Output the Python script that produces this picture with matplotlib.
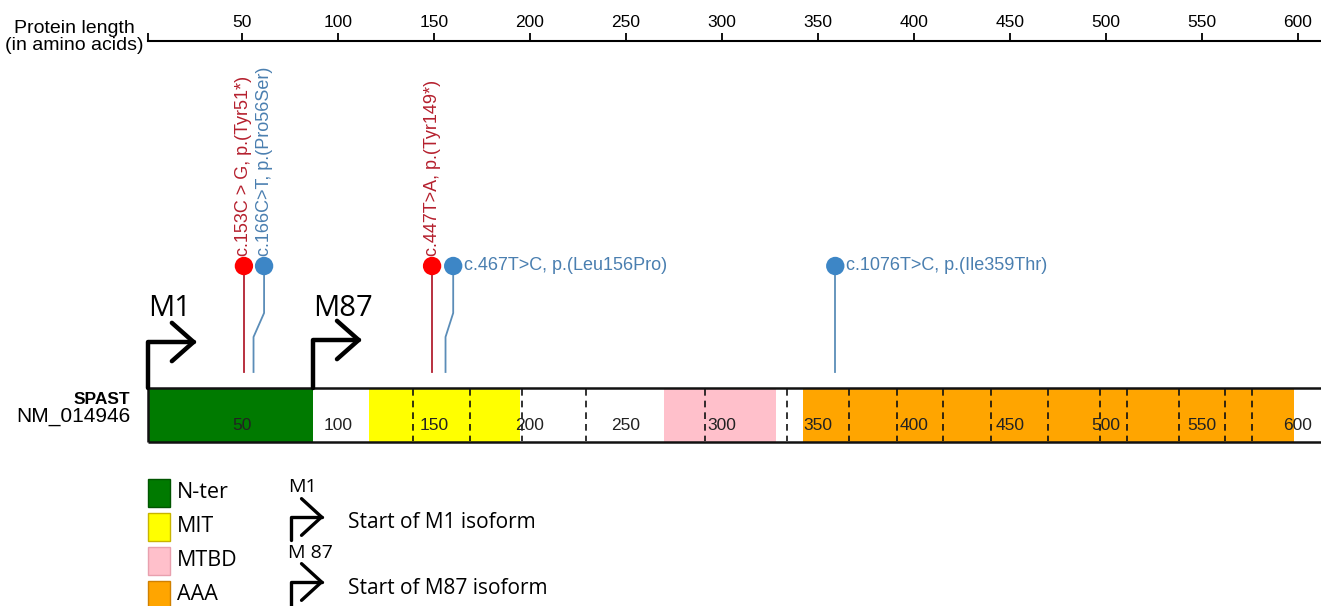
import numpy as np
import matplotlib.pyplot as plt
from matplotlib.patches import Rectangle

# SPAST protein (NM_014946) domain map
domain_names = ["N-ter", "MIT", "MTBD", "AAA"]
domain_starts = [1, 116, 270, 342]
domain_ends = [87, 195, 328, 598]
domain_colors = ["#007A00", "#FFFF00", "#FFC0CB", "#FFA500"]
domain_edges = ["#005500", "#C8B400", "#E8A0AE", "#D08000"]

exon_bounds = [139, 169, 196, 229, 291, 334, 366, 391, 415, 440, 470, 497, 511, 538, 562, 576]
scale_ticks = [50, 100, 150, 200, 250, 300, 350, 400, 450, 500, 550, 600]

mut_pos = [51, 56, 149, 156, 359]
mut_head = [51, 61.5, 149, 160, 359]
mut_labels = ["c.153C > G, p.(Tyr51*)", "c.166C>T, p.(Pro56Ser)",
              "c.447T>A, p.(Tyr149*)", "c.467T>C, p.(Leu156Pro)",
              "c.1076T>C, p.(Ile359Thr)"]
mut_truncating = [True, False, True, False, False]

isoform_starts = [1, 87]
isoform_names = ["M1", "M87"]

# pixel layout: x_px = X0 + PX_PER_AA * aa
W, H = 1321, 606
X0, PX_PER_AA = 146, 1.92
BAR_TOP, BAR_BOT = 388, 442
HEAD_Y = 266

RED, RED_LINE, RED_TXT = "#FF0000", "#B22030", "#B5202E"
BLUE, BLUE_LINE, BLUE_TXT = "#3D86C6", "#5B8DB8", "#4A7FB0"

MAIN_FONT = ["Liberation Sans", "DejaVu Sans"]
LEG_FONT = ["Open Sans", "DejaVu Sans"]


def _xlim():
    return (-X0 / PX_PER_AA, (W - X0) / PX_PER_AA)


def _scale_axis(fig):
    axs = fig.add_axes([0, 1 - 41 / H, 1, 1e-4])
    axs.set_xlim(*_xlim())
    axs.set_ylim(0, 1)
    axs.patch.set_visible(False)
    for side in ["left", "right", "bottom"]:
        axs.spines[side].set_visible(False)
    axs.spines["top"].set_linewidth(1.5)
    axs.spines["top"].set_bounds(1, _xlim()[1])
    axs.xaxis.tick_top()
    axs.set_xticks([1] + scale_ticks)
    axs.set_xticklabels([""] + [str(t) for t in scale_ticks], fontfamily=MAIN_FONT, fontsize=12.5)
    axs.tick_params(axis="x", direction="out", length=6, width=1.3, pad=2)
    axs.set_yticks([])


def _protein_bar(ax):
    ax.add_patch(Rectangle((1, BAR_TOP), 700, BAR_BOT - BAR_TOP, facecolor="white", edgecolor="none", zorder=1))
    ax.barh(
        [(BAR_TOP + BAR_BOT) / 2] * len(domain_starts),
        np.array(domain_ends) - np.array(domain_starts),
        left=domain_starts,
        height=BAR_BOT - BAR_TOP,
        color=domain_colors,
        edgecolor="none",
        zorder=2,
    )
    ax.vlines(exon_bounds, BAR_TOP + 1, BAR_BOT - 1, colors="#111111",
              linestyles=(0, (4, 3)), linewidth=1.2, zorder=3)
    ax.hlines([BAR_TOP, BAR_BOT], 1, 700, colors="#111111", linewidth=1.8, zorder=4)
    ax.vlines([1], BAR_TOP, BAR_BOT, colors="#111111", linewidth=1.8, zorder=4)
    for t in scale_ticks:
        ax.text(t, 426, str(t), ha="center", va="center", fontsize=12.5,
                color="#222222", family=MAIN_FONT, zorder=5)


def _mutations(ax):
    for pos, head, label, trunc in zip(mut_pos, mut_head, mut_labels, mut_truncating):
        line_c = trunc and RED_LINE or BLUE_LINE
        txt_c = trunc and RED_TXT or BLUE_TXT
        ax.plot([head, head, pos, pos], [HEAD_Y, 313, 337, 372], color=line_c, linewidth=1.3, zorder=2)
        if trunc or pos < 100:
            ax.text(head, HEAD_Y - 10, label, rotation=90, ha="center", va="bottom",
                    color=txt_c, fontsize=13, family=MAIN_FONT)
        else:
            ax.text(head + 5.5, HEAD_Y, label, ha="left", va="center",
                    color=txt_c, fontsize=13, family=MAIN_FONT)
    ax.scatter(mut_head, [HEAD_Y] * len(mut_head), s=175,
               c=[t and RED or BLUE for t in mut_truncating], edgecolors="none", zorder=3)


def _isoforms(ax):
    for pos, name in zip(isoform_starts, isoform_names):
        corner = 342 if pos == 1 else 340
        ax.annotate("", xy=(pos + 25.5, corner), xytext=(pos, BAR_TOP),
                    arrowprops=dict(arrowstyle="->,head_length=1.3,head_width=1.15",
                                    connectionstyle="angle,angleA=90,angleB=180,rad=0",
                                    lw=3.2, color="black", shrinkA=0, shrinkB=0,
                                    mutation_scale=12),
                    zorder=5)
        ax.text(pos, 316, name, ha="left", va="baseline", fontsize=21, family=LEG_FONT)


def _labels_and_legend(ov):
    ov.text(74, 37, "Protein length\n(in amino acids)", ha="center", va="center",
            fontsize=14, family=MAIN_FONT, linespacing=1.05)
    ov.text(130, 399, "SPAST", ha="right", va="center", fontsize=12.5,
            fontweight="bold", family=MAIN_FONT)
    ov.text(130, 417, "NM_014946", ha="right", va="center", fontsize=15, family=MAIN_FONT)

    for i, (name, color, edge) in enumerate(zip(domain_names, domain_colors, domain_edges)):
        y = 479 + i * 34
        ov.add_patch(Rectangle((148, y), 22, 28, facecolor=color, edgecolor=edge, linewidth=1.0))
        ov.text(177, y + 14, name, ha="left", va="center", fontsize=15.5, family=LEG_FONT)

    legend_rows = [(487, 540, 517, 523, "M1", "Start of M1 isoform"),
                   (553, 615, 582, 588, "M 87", "Start of M87 isoform")]
    for label_y, base_y, corner_y, text_y, short, long in legend_rows:
        ov.text(288, label_y, short, ha="left", va="center", fontsize=14, family=LEG_FONT)
        ov.annotate("", xy=(324, corner_y), xytext=(291, base_y),
                    arrowprops=dict(arrowstyle="->,head_length=1.2,head_width=1.1",
                                    connectionstyle="angle,angleA=90,angleB=180,rad=0",
                                    lw=2.4, color="black", shrinkA=0, shrinkB=0,
                                    mutation_scale=12),
                    annotation_clip=False)
        ov.text(348, text_y, long, ha="left", va="center", fontsize=15, family=LEG_FONT)


def _main():
    fig = plt.figure(figsize=(W / 100, H / 100), dpi=100)

    ax = fig.add_axes([0, 0, 1, 1])
    ax.set_xlim(*_xlim())
    ax.set_ylim(H, 0)
    ax.axis("off")

    ov = fig.add_axes([0, 0, 1, 1])
    ov.set_xlim(0, W)
    ov.set_ylim(H, 0)
    ov.axis("off")

    _scale_axis(fig)
    _protein_bar(ax)
    _mutations(ax)
    _isoforms(ax)
    _labels_and_legend(ov)

    fig.savefig("out.png", dpi=100)


if __name__ == "__main__":
    _main()
